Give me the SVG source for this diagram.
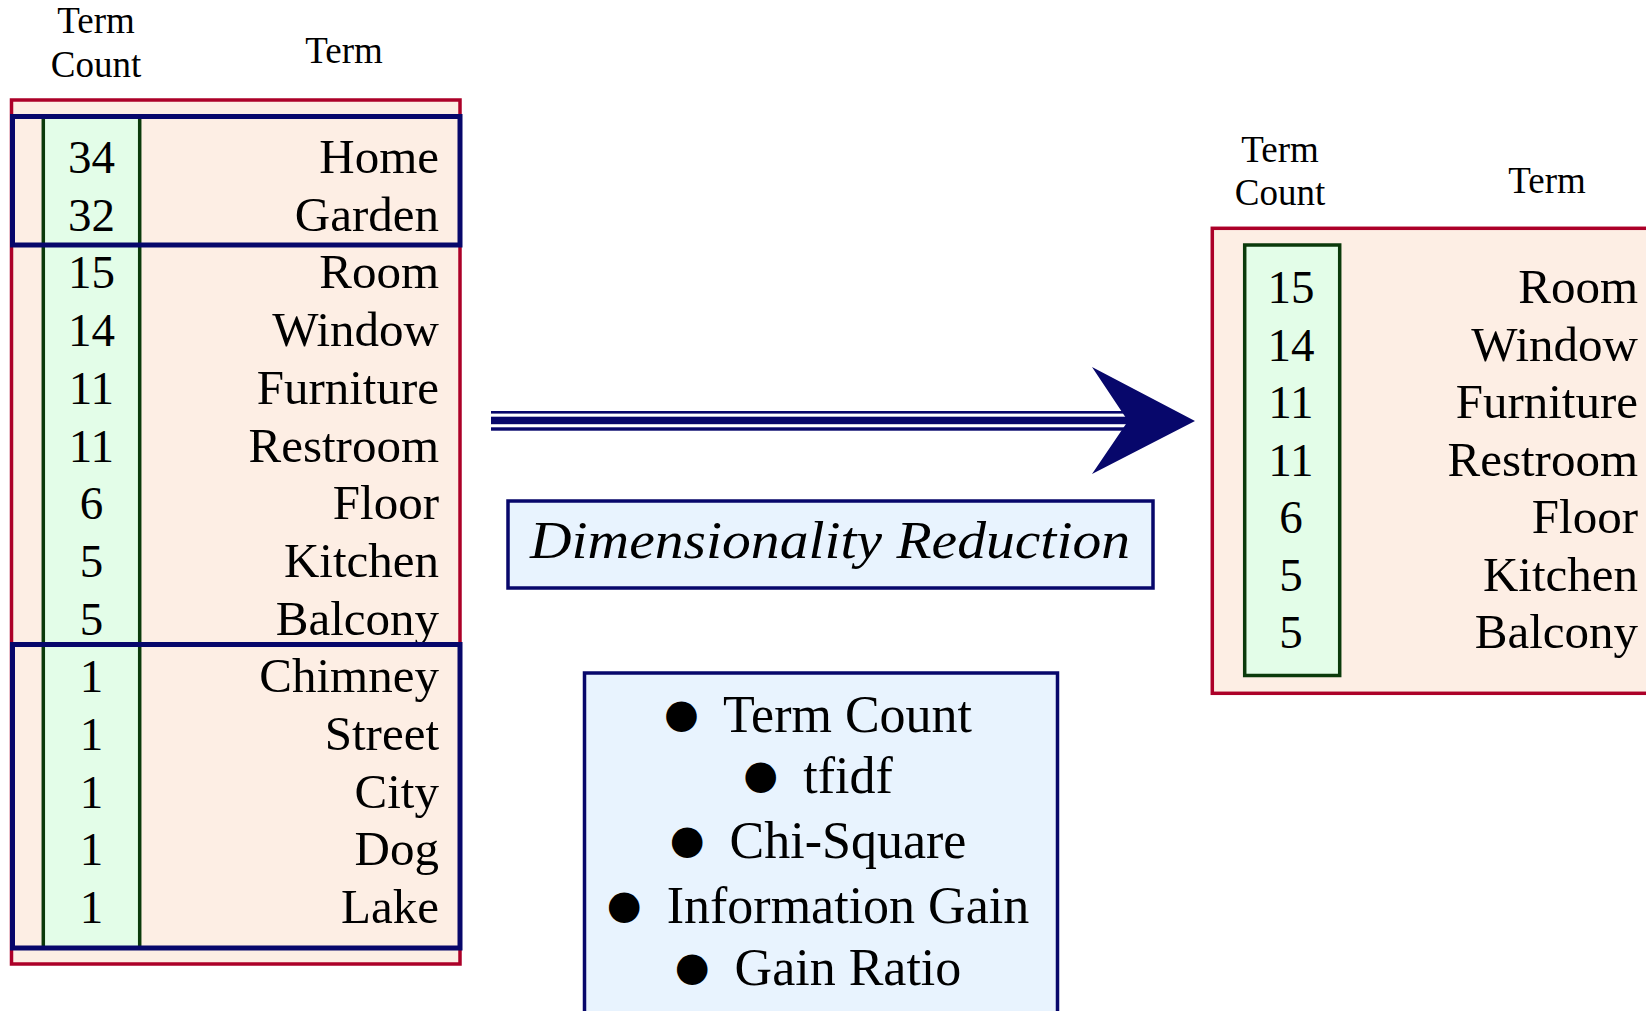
<svg xmlns="http://www.w3.org/2000/svg" width="1646" height="1011" viewBox="0 0 1646 1011">
<style>
text{font-family:"Liberation Serif","DejaVu Serif",serif;fill:#000}
.hdr{font-size:37px;text-anchor:middle}
.num{font-size:47px;text-anchor:middle}
.term{font-size:49px;text-anchor:end}
.red{fill:#fdeee4;stroke:#ac0028;stroke-width:3.5}
.green{fill:#e3fde8;stroke:#0b3a0b;stroke-width:3.5}
.gline{stroke:#0b3a0b;stroke-width:3.5}
.blue{fill:none;stroke:#07076b;stroke-width:5}
.box{fill:#e8f3fe;stroke:#07076b;stroke-width:3.5}
.meth{font-size:52px;text-anchor:middle}
.bul{font-family:"DejaVu Sans",sans-serif;font-size:40px}
</style>

<g id="left-headers">
<text class="hdr" x="96" y="33">Term</text>
<text class="hdr" x="96" y="77">Count</text>
<text class="hdr" x="344" y="63">Term</text>
</g>

<g id="left-table">
<rect class="red" x="11.5" y="100" width="448.5" height="864"/>
<rect x="43" y="116" width="97" height="832" fill="#e3fde8"/>
<line class="gline" x1="43.3" y1="116" x2="43.3" y2="948"/>
<line class="gline" x1="139.7" y1="116" x2="139.7" y2="948"/>
<g class="nums">
<text class="num" x="91.5" y="173">34</text>
<text class="num" x="91.5" y="230.7">32</text>
<text class="num" x="91.5" y="288.4">15</text>
<text class="num" x="91.5" y="346.1">14</text>
<text class="num" x="91.5" y="403.8">11</text>
<text class="num" x="91.5" y="461.5">11</text>
<text class="num" x="91.5" y="519.2">6</text>
<text class="num" x="91.5" y="576.9">5</text>
<text class="num" x="91.5" y="634.6">5</text>
<text class="num" x="91.5" y="692.3">1</text>
<text class="num" x="91.5" y="750">1</text>
<text class="num" x="91.5" y="807.7">1</text>
<text class="num" x="91.5" y="865.4">1</text>
<text class="num" x="91.5" y="923.1">1</text>
</g>
<g class="terms">
<text class="term" x="439" y="173">Home</text>
<text class="term" x="439" y="230.7">Garden</text>
<text class="term" x="439" y="288.4">Room</text>
<text class="term" x="439" y="346.1">Window</text>
<text class="term" x="439" y="403.8">Furniture</text>
<text class="term" x="439" y="461.5">Restroom</text>
<text class="term" x="439" y="519.2">Floor</text>
<text class="term" x="439" y="576.9">Kitchen</text>
<text class="term" x="439" y="634.6">Balcony</text>
<text class="term" x="439" y="692.3">Chimney</text>
<text class="term" x="439" y="750">Street</text>
<text class="term" x="439" y="807.7">City</text>
<text class="term" x="439" y="865.4">Dog</text>
<text class="term" x="439" y="923.1">Lake</text>
</g>
</g>

<g id="top-group">
<rect class="blue" x="12.5" y="116.5" width="447.5" height="128.5"/>
</g>
<g id="bottom-group">
<rect class="blue" x="12.5" y="644.5" width="447.5" height="303.5"/>
</g>

<g id="connectors">
<rect x="491" y="411" width="642" height="2.6" fill="#07076b"/>
<rect x="491" y="416.7" width="642" height="7.5" fill="#07076b"/>
<rect x="491" y="427.3" width="642" height="3.4" fill="#07076b"/>
<polygon points="1092,367 1195,421 1092,474 1128,421" fill="#07076b"/>
</g>

<g id="dimensionality-reduction">
<rect class="box" x="508" y="501" width="645" height="87"/>
<text x="830" y="558" font-size="52" font-style="italic" text-anchor="middle" textLength="600" lengthAdjust="spacingAndGlyphs">Dimensionality Reduction</text>
</g>

<g id="methods">
<rect class="box" x="584.5" y="673" width="473" height="360"/>
<text class="meth" x="818" y="732"><tspan class="bul" baseline-shift="5">●</tspan><tspan dx="12"> Term Count</tspan></text>
<text class="meth" x="818" y="793"><tspan class="bul" baseline-shift="5">●</tspan><tspan dx="12"> tfidf</tspan></text>
<text class="meth" x="818" y="858"><tspan class="bul" baseline-shift="5">●</tspan><tspan dx="12"> Chi-Square</tspan></text>
<text class="meth" x="818" y="923"><tspan class="bul" baseline-shift="5">●</tspan><tspan dx="12"> Information Gain</tspan></text>
<text class="meth" x="818" y="985"><tspan class="bul" baseline-shift="5">●</tspan><tspan dx="12"> Gain Ratio</tspan></text>
</g>

<g id="right-headers">
<text class="hdr" x="1280" y="162">Term</text>
<text class="hdr" x="1280" y="205">Count</text>
<text class="hdr" x="1547" y="193">Term</text>
</g>

<g id="right-table">
<rect class="red" x="1212.3" y="228.3" width="460" height="465"/>
<rect class="green" x="1244.7" y="245" width="95" height="430.5"/>
<text class="num" x="1291" y="303">15</text>
<text class="num" x="1291" y="360.5">14</text>
<text class="num" x="1291" y="418">11</text>
<text class="num" x="1291" y="475.5">11</text>
<text class="num" x="1291" y="533">6</text>
<text class="num" x="1291" y="590.5">5</text>
<text class="num" x="1291" y="648">5</text>
<text class="term" x="1638" y="303">Room</text>
<text class="term" x="1638" y="360.5">Window</text>
<text class="term" x="1638" y="418">Furniture</text>
<text class="term" x="1638" y="475.5">Restroom</text>
<text class="term" x="1638" y="533">Floor</text>
<text class="term" x="1638" y="590.5">Kitchen</text>
<text class="term" x="1638" y="648">Balcony</text>
</g>
</svg>
